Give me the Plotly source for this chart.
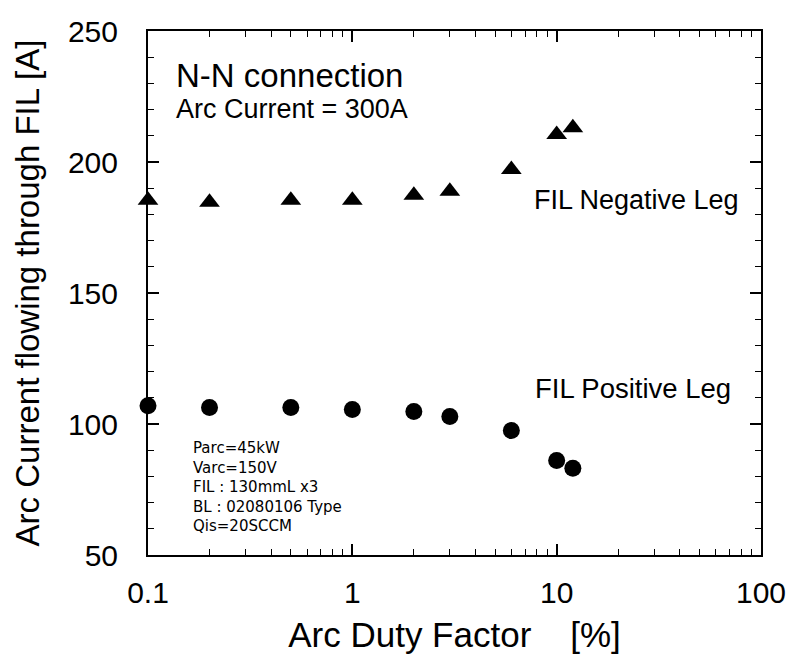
import plotly.graph_objects as go

duty = [0.1, 0.2, 0.5, 1, 2, 3, 6, 10, 12]
neg_leg = [185.4, 184.6, 185.4, 185.4, 187.3, 188.8, 197.1, 210.5, 213.1]
pos_leg = [107.0, 106.3, 106.3, 105.5, 104.8, 102.9, 97.5, 86.1, 83.1]

x_ticks = [0.1, 1, 10, 100]
x_ticktext = ["0.1", "1", "10", "100"]
y_ticks = [50, 100, 150, 200, 250]

info_lines = ["Parc=45kW", "Varc=150V", "FIL : 130mmL x3", "BL : 02080106 Type", "Qis=20SCCM"]

FONT = "Arial, 'Liberation Sans', Helvetica, sans-serif"

fig = go.Figure()
fig.add_trace(go.Scatter(x=duty, y=neg_leg, mode="markers", cliponaxis=False,
                         marker=dict(symbol="triangle-up", size=18, color="black"),
                         name="FIL Negative Leg", showlegend=False))
fig.add_trace(go.Scatter(x=duty, y=pos_leg, mode="markers", cliponaxis=False,
                         marker=dict(symbol="circle", size=17, color="black"),
                         name="FIL Positive Leg", showlegend=False))

W, H = 798, 660
L, R, T, B = 148, 30, 31, 103
pw, ph = W - L - R, H - T - B

def px(xp):
    return (xp - L) / pw

def py(yp):
    return (H - B - yp) / ph

ann = []
ann.append(dict(text="N-N connection", x=px(174), y=py(76), font=dict(size=33)))
ann.append(dict(text="Arc Current = 300A", x=px(174), y=py(109), font=dict(size=27)))
ann.append(dict(text="FIL Negative Leg", x=px(536), y=py(201), font=dict(size=27)))
ann.append(dict(text="FIL Positive Leg", x=px(537), y=py(390), font=dict(size=27.5)))
ann.append(dict(text="<br>".join(info_lines), x=px(191), y=py(489), align="left",
                font=dict(size=15, family="'DejaVu Sans', Verdana, sans-serif")))
for a in ann:
    a.update(xref="paper", yref="paper", xanchor="left", yanchor="middle", showarrow=False)
    a["font"].setdefault("family", FONT)
    a["font"]["color"] = "black"

axis_common = dict(showline=True, linecolor="black", linewidth=2, mirror="allticks",
                   ticks="inside", tickcolor="black", tickwidth=1.5, ticklen=11,
                   showgrid=False, zeroline=False,
                   tickfont=dict(family=FONT, size=30, color="black"))

fig.update_layout(
    width=W, height=H,
    margin=dict(l=L, r=R, t=T, b=B),
    paper_bgcolor="white", plot_bgcolor="white",
    annotations=ann,
    xaxis=dict(type="log", range=[-1, 2], tickvals=x_ticks, ticktext=x_ticktext,
               title=dict(text="Arc Duty Factor\u00a0\u00a0\u00a0 [%]", standoff=14,
                          font=dict(family=FONT, size=35, color="black")),
               minor=dict(ticks="inside", ticklen=6, tickcolor="black", tickwidth=1.2,
                          dtick="D1", showgrid=False),
               ticklabelstandoff=10,
               **axis_common),
    yaxis=dict(range=[50, 250], tickvals=y_ticks,
               title=dict(text="Arc Current flowing through FIL [A]", standoff=18,
                          font=dict(family=FONT, size=33, color="black")),
               minor=dict(ticks="inside", ticklen=6, tickcolor="black", tickwidth=1.2,
                          dtick=10, showgrid=False),
               ticklabelstandoff=22,
               **axis_common),
)

fig.write_html("out.html")
